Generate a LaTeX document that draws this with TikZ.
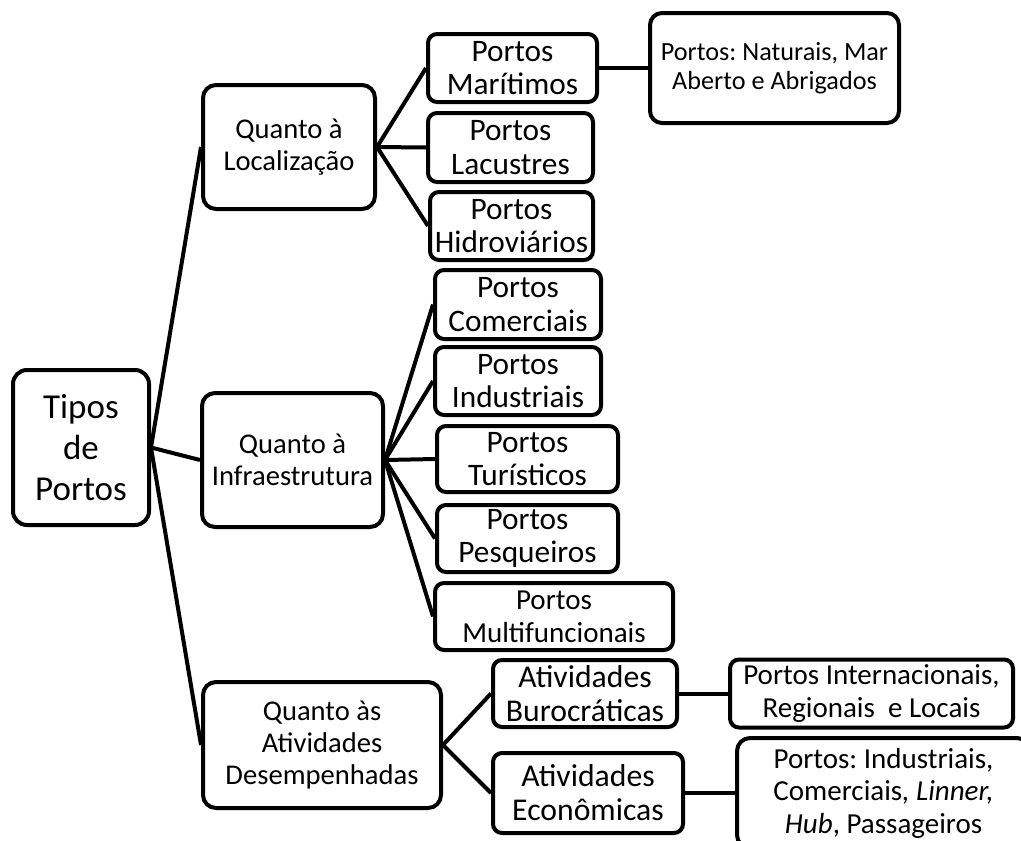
\documentclass[tikz,border=0pt]{standalone}
\usepackage{fontspec}
\setmainfont{Carlito}
\frenchspacing
\begin{document}
\begin{tikzpicture}[x=1pt,y=1pt,
  box/.style={draw=black, fill=white, line width=4pt, rounded corners=9pt, align=center, inner sep=0pt},
  conn/.style={draw=black, line width=4pt},
  fbig/.style={font=\fontsize{35}{41}\selectfont},
  fquanto/.style={font=\fontsize{28.6}{32}\selectfont},
  fleaf/.style={font=\fontsize{31.3}{33.5}\selectfont},
  fmulti/.style={font=\fontsize{29}{33}\selectfont},
  fnat/.style={font=\fontsize{26.2}{29.5}\selectfont},
  fintl/.style={font=\fontsize{29}{32.5}\selectfont},
  fativ/.style={font=\fontsize{31.7}{34}\selectfont}]
\useasboundingbox (0,0) rectangle (1021,-841);
\clip (0,0) rectangle (1021,-841);
\fill[white] (0,0) rectangle (1021,-841);

% level 0
\node[box, fbig, rounded corners=14pt, minimum width=136pt, minimum height=155pt] (tipos) at (81,-447.5) {Tipos\\de\\Portos};

% level 1
\node[box, fquanto, rounded corners=13pt, minimum width=172pt, minimum height=124pt] (loc) at (289,-147) {Quanto à\\Localização};
\node[box, fquanto, rounded corners=13pt, minimum width=181pt, minimum height=134pt] (infra) at (292.5,-460) {Quanto à\\Infraestrutura};
\node[box, fquanto, rounded corners=13pt, minimum width=238pt, minimum height=126pt] (desemp) at (322,-745) {Quanto às\\Atividades\\Desempenhadas};

% level 2 - localizacao
\node[box, fleaf, minimum width=169pt, minimum height=68pt] (mar) at (512.5,-68) {Portos\\Marítimos};
\node[box, fleaf, minimum width=165pt, minimum height=69pt] (lac) at (510.5,-147.5) {Portos\\Lacustres};
\node[box, fleaf, minimum width=163pt, minimum height=68pt] (hid) at (511.5,-226) {Portos\\Hidroviários};
\node[box, fnat, rounded corners=12pt, minimum width=249pt, minimum height=110pt] (nat) at (774.5,-68) {Portos: Naturais, Mar\\Aberto e Abrigados};

% level 2 - infraestrutura
\node[box, fleaf, minimum width=166pt, minimum height=69pt] (com) at (518,-304.5) {Portos\\Comerciais};
\node[box, fleaf, minimum width=166pt, minimum height=68pt] (ind) at (518,-381) {Portos\\Industriais};
\node[box, fleaf, minimum width=181pt, minimum height=66pt] (tur) at (527.5,-459) {Portos\\Turísticos};
\node[box, fleaf, minimum width=181pt, minimum height=67pt] (pes) at (527.5,-538.5) {Portos\\Pesqueiros};
\node[box, fmulti, minimum width=238pt, minimum height=67pt] (mul) at (554,-616.5) {Portos\\Multifuncionais};

% level 2 - atividades
\node[box, fativ, minimum width=184pt, minimum height=67pt] (buro) at (585,-693.5) {Atividades\\Burocráticas};
\node[box, fativ, minimum width=190pt, minimum height=80pt] (econ) at (588,-793) {Atividades\\Econômicas};
\node[box, fintl, minimum width=283pt, minimum height=68pt] (intl) at (871.5,-693.5) {Portos Internacionais,\\Regionais~ e Locais};
\node[box, fintl, rounded corners=13pt, minimum width=293pt, minimum height=110pt] (pass) at (883.5,-793) {Portos: Industriais,\\Comerciais\textit{, Linner,}\\\textit{Hub}, Passageiros};

% connectors
\draw[conn] (tipos.east) -- (loc.west);
\draw[conn] (tipos.east) -- (infra.west);
\draw[conn] (tipos.east) -- (desemp.west);
\draw[conn] (loc.east) -- (mar.west);
\draw[conn] (loc.east) -- (lac.west);
\draw[conn] (loc.east) -- (hid.west);
\draw[conn] (mar.east) -- (nat.west);
\draw[conn] (infra.east) -- (com.west);
\draw[conn] (infra.east) -- (ind.west);
\draw[conn] (infra.east) -- (tur.west);
\draw[conn] (infra.east) -- (pes.west);
\draw[conn] (infra.east) -- (mul.west);
\draw[conn] (desemp.east) -- (buro.west);
\draw[conn] (desemp.east) -- (econ.west);
\draw[conn] (buro.east) -- (intl.west);
\draw[conn] (econ.east) -- (pass.west);
\end{tikzpicture}
\end{document}
